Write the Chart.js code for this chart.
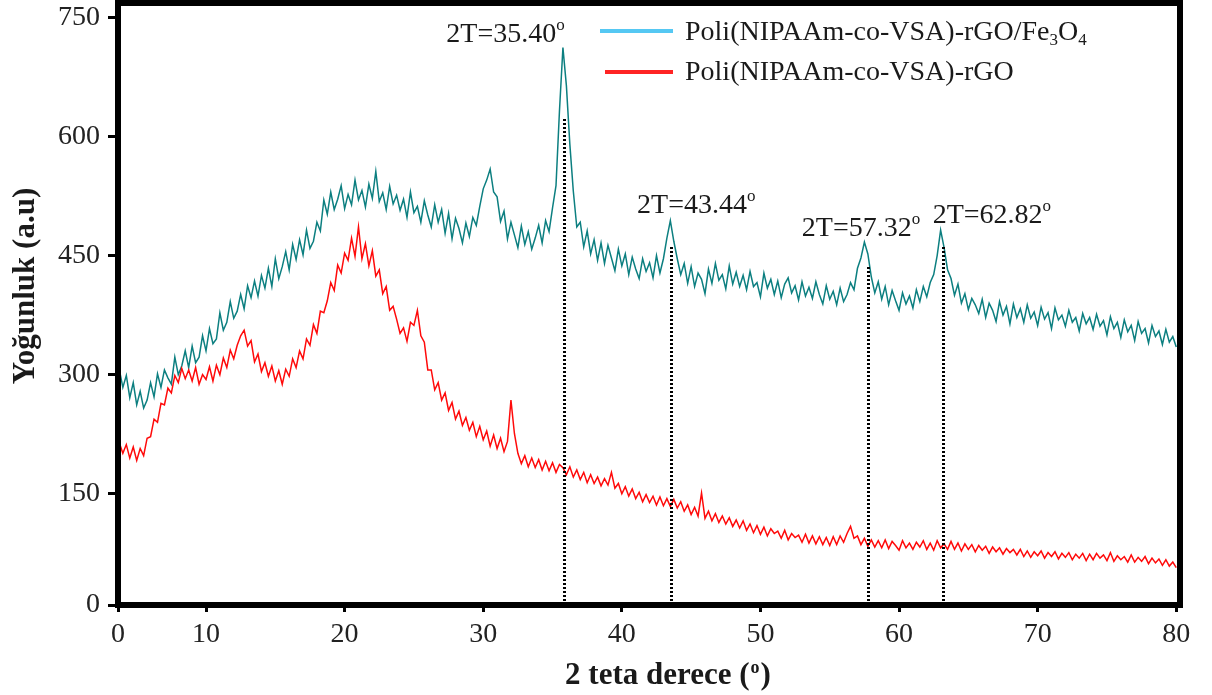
<!DOCTYPE html>
<html>
<head>
<meta charset="utf-8">
<script src="https://cdn.jsdelivr.net/npm/chart.js@4.4.1/dist/chart.umd.min.js"></script>
<style>
  html, body { margin: 0; padding: 0; background: #fff; }
  #xrd { display: block; }
</style>
</head>
<body>
<canvas id="xrd" width="1212" height="695"></canvas>
<script>
// 2θ sampling: every 0.25 degree from 3.75 to 80
const thetaStart = 3.75;
const thetaStep = 0.25;

// Poli(NIPAAm-co-VSA)-rGO/Fe3O4
const tealCounts = [
  306, 284, 299, 271, 290, 262, 279, 258, 268, 290, 272, 301, 284, 306, 296, 288, 322, 300, 311, 330,
  309, 336, 315, 322, 349, 330, 358, 339, 345, 378, 356, 366, 392, 371, 380, 401, 383, 412, 397, 418,
  399, 425, 409, 434, 411, 446, 421, 436, 455, 432, 464, 445, 470, 451, 482, 459, 468, 492, 481, 520,
  502, 530, 508, 521, 538, 509, 527, 514, 545, 520, 532, 511, 540, 522, 556, 518, 529, 508, 537, 515,
  526, 507, 521, 498, 530, 504, 512, 492, 519, 501, 486, 514, 492, 508, 478, 503, 471, 497, 484, 466,
  491, 474, 498, 488, 512, 534, 545, 559, 530, 524, 493, 506, 471, 492, 476, 460, 487, 464, 480, 458,
  472, 488, 466, 494, 480, 510, 538, 632, 712, 664, 590, 531, 486, 492, 461, 481, 452, 470, 444, 466,
  440, 463, 447, 431, 458, 437, 452, 426, 448, 433, 421, 446, 430, 441, 422, 450, 428, 446, 472, 494,
  468, 446, 426, 440, 415, 436, 411, 428, 420, 402, 433, 415, 440, 419, 426, 408, 437, 414, 429, 411,
  425, 407, 430, 411, 416, 398, 428, 409, 420, 401, 418, 397, 414, 422, 403, 412, 394, 417, 399, 410,
  396, 417, 401, 389, 412, 395, 405, 388, 409, 392, 401, 416, 407, 434, 447, 467, 452, 423, 403, 417,
  395, 411, 388, 406, 393, 381, 403, 389, 399, 384, 407, 392, 411, 398, 416, 426, 450, 482, 460, 432,
  421, 400, 414, 390, 402, 382, 396, 388, 377, 395, 372, 390, 381, 367, 392, 375, 386, 364, 389, 372,
  383, 366, 388, 371, 379, 362, 385, 370, 378, 358, 384, 369, 375, 361, 381, 366, 372, 355, 377, 364,
  372, 357, 376, 361, 368, 350, 373, 358, 366, 347, 369, 354, 362, 343, 367, 352, 358, 340, 362, 348,
  355, 338, 357, 341, 348, 335
];

// Poli(NIPAAm-co-VSA)-rGO
const redCounts = [
  214, 201, 212, 195, 209, 192, 207, 198, 220, 222, 244, 240, 264, 262, 283, 277, 299, 290, 308, 295,
  306, 292, 309, 288, 300, 294, 310, 292, 312, 300, 321, 309, 331, 320, 337, 349, 356, 336, 343, 316,
  326, 304, 315, 298, 311, 292, 305, 288, 307, 298, 320, 309, 330, 320, 345, 337, 363, 352, 380, 378,
  393, 416, 406, 438, 428, 453, 444, 472, 449, 486, 446, 465, 437, 456, 424, 432, 402, 411, 381, 386,
  370, 352, 359, 342, 366, 362, 381, 349, 341, 306, 306, 281, 290, 268, 277, 255, 265, 244, 254, 236,
  246, 230, 240, 222, 235, 218, 229, 210, 224, 207, 220, 203, 216, 268, 226, 201, 188, 198, 184, 195,
  183, 193, 180, 191, 179, 189, 177, 187, 183, 174, 184, 171, 180, 168, 177, 164, 174, 163, 171, 160,
  169, 161, 177, 157, 163, 150, 159, 147, 156, 144, 152, 140, 149, 139, 147, 136, 146, 135, 144, 134,
  143, 132, 140, 128, 136, 124, 133, 122, 151, 119, 128, 116, 125, 114, 122, 112, 120, 109, 117, 107,
  116, 104, 112, 101, 110, 99, 108, 97, 106, 100, 103, 94, 104, 92, 100, 95, 98, 89, 99, 88,
  97, 87, 96, 86, 95, 85, 96, 86, 97, 89, 100, 109, 94, 97, 86, 94, 84, 92, 83, 91,
  82, 92, 81, 90, 85, 79, 91, 82, 88, 80, 89, 83, 91, 80, 88, 79, 91, 82, 87, 80,
  90, 80, 88, 78, 87, 80, 86, 77, 85, 79, 84, 75, 83, 77, 82, 74, 81, 76, 80, 73,
  80, 71, 78, 70, 77, 72, 78, 69, 76, 71, 77, 68, 75, 70, 76, 67, 74, 69, 75, 66,
  74, 67, 75, 69, 73, 66, 76, 65, 72, 67, 71, 64, 73, 64, 70, 65, 71, 62, 69, 63,
  68, 60, 67, 59, 64, 57
];

const seriesNames = ['Poli(NIPAAm-co-VSA)-rGO/Fe', 'Poli(NIPAAm-co-VSA)-rGO'];

// marked peaks: label text, where the dotted line stands, and how high it goes
const peakLabels = ['2T=35.40', '2T=43.44', '2T=57.32', '2T=62.82'];
const peakTheta = [35.85, 43.55, 57.75, 63.15];
const peakTop = [624, 463, 438, 463];

// axis ticks (the picture labels its lower-left corner 0)
const xTicks = [3.65, 10, 20, 30, 40, 50, 60, 70, 80];
const yTicks = [10, 150, 300, 450, 600, 750];

const twoTheta = tealCounts.map((_, i) => thetaStart + i * thetaStep);
const tealPoints = tealCounts.map((v, i) => ({ x: twoTheta[i], y: v }));
const redPoints = redCounts.map((v, i) => ({ x: twoTheta[i], y: v }));

const SERIF = '"Liberation Serif", "Times New Roman", serif';
const TEAL = '#0c7f80';
const RED = '#ff0a0a';

function textWithSup(ctx, parts, x, y, size) {
  // parts: [text, 'sup'|'sub'|null]
  let cx = x;
  parts.forEach(([t, kind]) => {
    if (kind) {
      ctx.font = `${Math.round(size * 0.6)}px ${SERIF}`;
      ctx.fillText(t, cx, kind === 'sup' ? y - size * 0.42 : y + size * 0.18);
    } else {
      ctx.font = `${size}px ${SERIF}`;
      ctx.fillText(t, cx, y);
    }
    cx += ctx.measureText(t).width;
  });
}

const labelOffsets = [[-118, 42], [-34, 213], [-66, 236], [-10, 223]];

const overlay = {
  id: 'overlay',
  afterDatasetsDraw(chart) {
    const { ctx, chartArea: a, scales: { x, y } } = chart;
    ctx.save();

    // dotted drop lines under the peaks
    ctx.strokeStyle = '#000';
    ctx.lineWidth = 3;
    ctx.setLineDash([2, 2]);
    peakTheta.forEach((t, i) => {
      const px = Math.round(x.getPixelForValue(t)) + 0.5;
      ctx.beginPath();
      ctx.moveTo(px, a.bottom);
      ctx.lineTo(px, y.getPixelForValue(peakTop[i]));
      ctx.stroke();
    });
    ctx.setLineDash([]);

    // peak labels
    ctx.fillStyle = '#1a1a1a';
    ctx.textBaseline = 'alphabetic';
    ctx.textAlign = 'left';
    peakLabels.forEach((lab, i) => {
      const px = x.getPixelForValue(peakTheta[i]);
      textWithSup(ctx, [[lab, null], ['o', 'sup']], px + labelOffsets[i][0], labelOffsets[i][1], 28);
    });

    // legend
    ctx.lineWidth = 4;
    ctx.strokeStyle = '#55c8f3';
    ctx.beginPath(); ctx.moveTo(600, 31); ctx.lineTo(673, 31); ctx.stroke();
    ctx.strokeStyle = '#ff2424';
    ctx.beginPath(); ctx.moveTo(605, 72); ctx.lineTo(673, 72); ctx.stroke();
    ctx.fillStyle = '#1a1a1a';
    textWithSup(ctx, [[seriesNames[0], null], ['3', 'sub'], ['O', null], ['4', 'sub']], 685, 40, 28);
    textWithSup(ctx, [[seriesNames[1], null]], 685, 80, 28);

    // axis titles
    ctx.font = `bold 31px ${SERIF}`;
    ctx.textAlign = 'center';
    ctx.textBaseline = 'middle';
    ctx.save();
    ctx.translate(26, 286);
    ctx.rotate(-Math.PI / 2);
    ctx.fillText('Yoğunluk (a.u)', 0, 0);
    ctx.restore();

    ctx.textAlign = 'left';
    ctx.textBaseline = 'alphabetic';
    const t1 = '2 teta derece (', t2 = ')';
    const w1 = ctx.measureText(t1).width;
    ctx.font = `bold 18px ${SERIF}`;
    const ws = ctx.measureText('o').width;
    ctx.font = `bold 31px ${SERIF}`;
    const total = w1 + ws + 2 + ctx.measureText(t2).width;
    const sx = 668 - total / 2;
    ctx.fillText(t1, sx, 684);
    ctx.font = `bold 18px ${SERIF}`;
    ctx.fillText('o', sx + w1 + 1, 673);
    ctx.font = `bold 31px ${SERIF}`;
    ctx.fillText(t2, sx + w1 + ws + 2, 684);

    // thick frame
    ctx.strokeStyle = '#000';
    ctx.lineWidth = 6;
    ctx.strokeRect(a.left, a.top, a.right - a.left, a.bottom - a.top);
    ctx.restore();
  }
};

new Chart(document.getElementById('xrd').getContext('2d'), {
  type: 'line',
  data: {
    datasets: [
      {
        label: seriesNames[1],
        data: redPoints,
        borderColor: RED,
        borderWidth: 1.5,
        pointRadius: 0,
        tension: 0,
        fill: false,
        order: 0
      },
      {
        label: seriesNames[0] + '3O4',
        data: tealPoints,
        borderColor: TEAL,
        borderWidth: 1.5,
        pointRadius: 0,
        tension: 0,
        fill: false,
        order: 1
      }
    ]
  },
  options: {
    responsive: false,
    animation: false,
    devicePixelRatio: 1,
    layout: { padding: { top: 3, right: 32, left: 0, bottom: 0 } },
    plugins: {
      legend: { display: false },
      tooltip: { enabled: false }
    },
    scales: {
      x: {
        type: 'linear',
        min: 3.65,
        max: 80.27,
        afterBuildTicks: (s) => { s.ticks = xTicks.map(v => ({ value: v })); },
        afterFit: (s) => { s.height = 90; s.paddingLeft = 0; s.paddingRight = 0; },
        ticks: {
          autoSkip: false,
          maxRotation: 0,
          padding: 6,
          color: '#222',
          font: { family: SERIF, size: 28 },
          callback: (v) => (v < 5 ? '0' : v)
        },
        grid: { drawOnChartArea: false, drawTicks: true, tickLength: 7, color: '#000', lineWidth: 3 },
        border: { display: false }
      },
      y: {
        type: 'linear',
        min: 10,
        max: 768,
        afterBuildTicks: (s) => { s.ticks = yTicks.map(v => ({ value: v })); },
        afterFit: (s) => { s.width = 118; s.paddingTop = 0; s.paddingBottom = 0; },
        ticks: {
          autoSkip: false,
          padding: 8,
          color: '#222',
          font: { family: SERIF, size: 28 },
          callback: (v) => (v < 100 ? '0' : v)
        },
        grid: { drawOnChartArea: false, drawTicks: true, tickLength: 10, color: '#000', lineWidth: 3 },
        border: { display: false }
      }
    }
  },
  plugins: [overlay]
});
</script>
</body>
</html>
